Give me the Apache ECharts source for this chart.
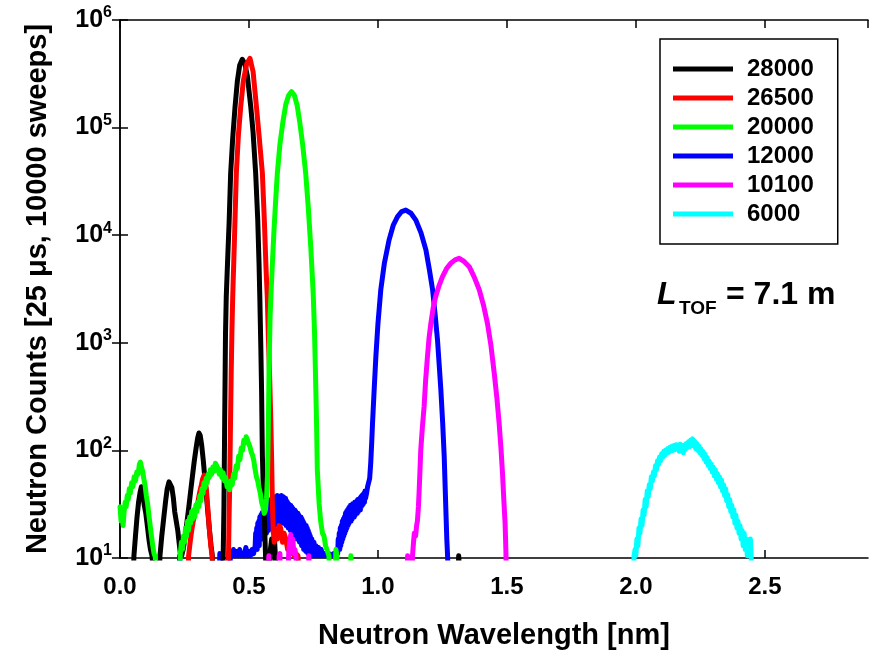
<!DOCTYPE html>
<html><head><meta charset="utf-8">
<script src="https://cdn.jsdelivr.net/npm/echarts@6/dist/echarts.min.js"></script>
<style>html,body{margin:0;padding:0;background:#fff}#c{width:872px;height:656px}</style>
</head><body><div id="c"></div>
<script>
// ---- data (wavelength [nm], counts) ----
const seriesNames = ['28000', '26500', '20000', '12000', '10100', '6000'];
const seriesColors = ['#000000', '#ff0000', '#00ff00', '#0000ff', '#ff00ff', '#00ffff'];
const xTickLabels = ['0.0', '0.5', '1.0', '1.5', '2.0', '2.5'];
const yTickExponents = [1, 2, 3, 4, 5, 6];

const s28000 = [
  [0.050,5],[0.054,10.5],[0.060,16],[0.066,24],[0.072,33],[0.078,41],[0.083,46],[0.088,40],[0.094,31],[0.100,26],[0.106,20],[0.112,15],[0.118,12],[0.124,10.5],[0.130,7],
  [0.150,5],[0.155,10.5],[0.162,16],[0.170,24],[0.177,34],[0.183,44],[0.190,51],[0.196,52],[0.201,45],[0.207,36],[0.212,27],[0.218,22],[0.224,18],[0.229,14],[0.234,11],[0.239,10.5],
  [0.245,12],[0.253,16],[0.260,22],[0.267,30],[0.274,42],[0.281,58],[0.288,80],[0.295,105],[0.301,130],[0.306,145],[0.311,138],[0.317,110],[0.323,80],[0.329,55],[0.335,38],[0.341,26],[0.347,18],[0.353,13],[0.358,10.5],[0.362,5],
  [0.398,5],[0.403,30],[0.406,200],[0.409,1200],[0.412,2700],[0.418,6500],[0.423,13000],[0.429,37600],[0.437,80000],[0.446,156000],[0.455,270000],[0.464,380000],[0.474,432000],[0.484,390000],[0.494,300000],[0.507,156000],[0.516,90000],[0.526,37600],[0.534,14000],[0.539,5500],[0.542,2700],[0.546,900],[0.549,350],[0.552,90],[0.556,40],[0.560,22],[0.564,11],[0.568,5],
  [0.580,5],[0.583,12],[0.588,15],[0.593,13],[0.598,16],[0.602,11],[0.606,5],
  [1.310,5],[1.313,10.5],[1.318,10.5],[1.321,5]
];
const s26500 = [
  [0.262,5],[0.266,10.5],[0.272,14],[0.278,18],[0.284,22],[0.290,27],[0.296,26],[0.302,33],[0.308,40],[0.314,46],[0.320,54],[0.326,59],[0.331,52],[0.336,40],[0.341,28],[0.346,19],[0.352,13],[0.357,10.5],[0.362,5],
  [0.418,5],[0.421,12],[0.423,25],[0.425,43],[0.428,150],[0.431,500],[0.434,1300],[0.437,2700],[0.443,8000],[0.451,37600],[0.459,85000],[0.468,156000],[0.478,270000],[0.491,390000],[0.504,440000],[0.516,330000],[0.529,156000],[0.540,80000],[0.552,37600],[0.560,13000],[0.566,5000],[0.571,2700],[0.575,1200],[0.580,500],[0.585,178],[0.588,80],[0.591,30],[0.594,18],
  [0.598,14],[0.604,18],[0.610,15],[0.616,20],[0.623,19],[0.630,14],[0.636,17],[0.643,15],[0.650,12],[0.656,14],[0.662,11],[0.669,12.5],[0.675,10.5],[0.682,11],[0.690,10.5],[0.698,5]
];
const s20000 = [
  [0.000,30],[0.004,22],[0.008,28],[0.012,20],[0.016,27],[0.020,33],[0.024,30],[0.028,38],[0.032,35],[0.036,44],[0.040,40],[0.045,50],[0.050,46],[0.055,57],[0.060,52],[0.065,63],[0.070,60],[0.075,74],[0.079,78],[0.083,70],[0.088,64],[0.092,55],[0.097,48],[0.102,38],[0.107,32],[0.112,25],[0.117,20],[0.122,16],[0.127,13],[0.132,11],[0.137,10.2],[0.141,5],
  [0.230,5],[0.234,11],[0.238,14],[0.242,12],[0.246,16],[0.250,14],[0.254,19],[0.258,16],[0.262,22],[0.266,18],[0.270,24],[0.274,21],[0.278,27],[0.282,23],[0.286,28],[0.290,24],[0.294,31],[0.298,27],[0.302,33],[0.306,30],[0.310,38],[0.314,34],[0.318,44],[0.322,40],[0.326,50],[0.330,45],[0.334,55],[0.338,50],[0.342,60],[0.346,56],[0.350,66],[0.355,60],[0.360,70],[0.365,64],[0.370,76],[0.375,72],[0.380,68],[0.385,60],[0.390,66],[0.395,56],[0.400,62],[0.405,52],[0.410,56],[0.415,46],[0.420,50],[0.425,43],[0.430,52],[0.435,48],[0.440,60],[0.445,55],[0.450,72],[0.455,68],[0.460,88],[0.465,82],[0.470,105],[0.475,100],[0.480,124],[0.485,118],[0.489,134],[0.494,125],[0.499,115],[0.504,108],[0.509,96],[0.514,90],[0.519,80],[0.524,66],[0.529,57],[0.534,52],[0.539,45],[0.544,40],[0.549,33],[0.554,30],[0.559,26],[0.564,28],[0.568,36],
  [0.572,60],[0.575,150],[0.578,600],[0.582,1800],[0.585,2700],[0.590,5000],[0.597,11000],[0.604,22000],[0.610,37600],[0.620,70000],[0.632,115000],[0.643,165000],[0.654,200000],[0.665,216000],[0.676,200000],[0.687,160000],[0.697,112000],[0.708,70000],[0.720,37600],[0.730,18000],[0.740,7500],[0.749,2900],[0.754,1300],[0.758,500],[0.762,180],[0.765,66],[0.772,32],[0.778,22],[0.785,17],[0.791,16],[0.797,13],[0.804,12.5],[0.810,10.5],[0.815,5],
  [0.834,5],[0.837,12],[0.840,11],[0.843,5],
  [0.892,5],[0.895,10.5],[0.898,10.5],[0.901,5]
];
const s12000 = [
  [0.228,5],[0.231,10.5],[0.235,10.5],[0.238,5],
  [0.384,5],[0.387,11],[0.391,10.5],[0.394,5],
  [0.425,5],[0.428,11.5],[0.434,10.5],[0.440,12],[0.446,10.5],[0.452,11.5],[0.458,10.5],[0.464,12],[0.470,10.5],[0.476,11],[0.482,10.5],[0.488,12.5],[0.494,10.5],[0.500,11.5],[0.506,10.5],[0.512,12],[0.518,11],[0.524,13],[0.526,17],[0.528,13],[0.530,19],[0.532,12],[0.534,21],[0.536,14],[0.538,22],[0.540,13],[0.542,24],[0.544,15],[0.546,25],[0.548,16],[0.550,26],[0.552,15],[0.554,27],[0.556,17],[0.558,29],[0.560,16],[0.562,30],[0.564,18],[0.566,31],[0.568,17],[0.570,32],[0.572,19],[0.574,33],[0.576,18],[0.578,34],[0.580,20],[0.582,33],[0.584,19],[0.586,35],[0.588,21],[0.590,34],[0.592,20],[0.594,36],[0.596,22],[0.598,35],[0.600,20],[0.602,37],[0.604,22],[0.606,36],[0.608,21],[0.610,38],[0.612,22],[0.614,36],[0.616,21],[0.618,37],[0.620,23],[0.622,35],[0.624,22],[0.626,38],[0.628,23],[0.630,36],[0.632,21],[0.634,37],[0.636,22],[0.638,35],[0.640,21],[0.642,36],[0.644,20],[0.646,34],[0.648,21],[0.650,33],[0.652,19],[0.654,32],[0.656,20],[0.658,31],[0.660,18],[0.662,31],[0.664,19],[0.666,30],[0.668,17],[0.670,29],[0.672,18],[0.674,28],[0.676,16],[0.678,28],[0.680,17],[0.682,27],[0.684,15],[0.686,26],[0.688,16],[0.690,26],[0.692,15],[0.694,25],[0.696,14],[0.698,24],[0.700,15],[0.702,24],[0.704,13],[0.706,23],[0.708,14],[0.710,22],[0.712,12],[0.714,21],[0.716,13],[0.718,20],[0.720,11.5],[0.722,20],[0.724,12],[0.726,19],[0.728,11],[0.730,18],[0.732,11.5],[0.734,17],[0.736,10.5],[0.738,16],[0.740,11],[0.744,15],[0.748,10.5],[0.752,14],[0.756,10.5],[0.760,13],[0.765,10.5],[0.770,12.5],[0.775,10.5],[0.780,12],[0.786,10.5],[0.792,11],[0.798,10.5],[0.804,10.5],[0.810,11],[0.816,10.5],[0.822,10.5],[0.828,11],[0.834,10.5],[0.840,12],[0.844,11],[0.846,15],[0.848,12],[0.850,17],[0.852,12],[0.854,19],[0.856,13],[0.858,20],[0.860,14],[0.862,22],[0.864,15],[0.866,23],[0.868,16],[0.870,24],[0.872,17],[0.874,26],[0.876,18],[0.878,27],[0.880,19],[0.882,28],[0.884,20],[0.886,29],[0.888,21],[0.890,30],[0.892,22],[0.894,31],[0.896,22],[0.898,31],[0.900,23],[0.902,32],[0.904,24],[0.906,32],[0.908,24],[0.910,33],[0.912,25],[0.914,33],[0.916,26],[0.918,34],[0.920,26],[0.922,35],[0.924,27],[0.926,35],[0.928,28],[0.930,36],[0.932,28],[0.934,37],[0.936,30],[0.938,38],[0.940,31],[0.942,39],[0.944,32],[0.946,40],[0.948,33],[0.950,42],[0.952,36],[0.956,40],[0.960,46],[0.964,45],[0.968,55],[0.972,76],[0.976,120],[0.979,178],[0.985,350],[0.992,743],
  [1.000,1500],[1.011,3100],[1.025,5500],[1.043,9000],[1.060,12500],[1.076,14900],[1.092,16600],[1.108,17100],[1.128,16000],[1.147,13800],[1.167,10500],[1.186,7300],[1.200,4700],[1.212,3100],[1.222,1800],[1.231,1060],[1.238,600],[1.244,364],[1.251,180],[1.257,87],[1.263,30],[1.267,15],[1.270,10.5],[1.274,5]
];
const s10100 = [
  [0.574,5],[0.577,10.5],[0.580,10.5],[0.583,5],
  [0.614,5],[0.617,10.5],[0.620,11],[0.623,5],
  [0.650,5],[0.654,11],[0.658,14],[0.662,16.5],[0.666,12],[0.670,15],[0.674,11],[0.678,12],[0.682,10.5],[0.686,5],
  [0.729,5],[0.732,10.5],[0.735,10.5],[0.738,5],
  [1.112,5],[1.115,10.5],[1.119,10.5],[1.122,5],
  [1.131,5],[1.134,10.5],[1.138,14],[1.141,17],[1.146,16],[1.150,20],[1.153,22],[1.157,30],[1.160,43],[1.163,65],[1.166,100],[1.172,160],[1.179,255],[1.185,450],[1.192,743],[1.198,1100],[1.205,1500],[1.214,2100],[1.224,2700],[1.237,3400],[1.250,4100],[1.266,4900],[1.283,5500],[1.299,5900],[1.315,6100],[1.334,5700],[1.354,5100],[1.373,4100],[1.393,3100],[1.410,2200],[1.425,1500],[1.438,950],[1.451,520],[1.461,310],[1.470,178],[1.477,105],[1.483,61],[1.488,35],[1.493,21],[1.496,12],[1.499,5]
];
const s6000 = [
  [1.990,5],[1.993,10.5],[1.997,12],[2.000,10.5],[2.004,15],[2.008,13],[2.012,19],[2.016,17],[2.020,23],[2.024,20],[2.028,28],[2.032,25],[2.036,35],[2.040,30],[2.044,42],[2.048,37],[2.052,48],[2.056,44],[2.060,57],[2.064,52],[2.068,63],[2.072,58],[2.076,72],[2.080,66],[2.084,80],[2.088,74],[2.092,87],[2.096,80],[2.100,93],[2.104,86],[2.108,98],[2.112,90],[2.116,101],[2.120,94],[2.124,104],[2.128,96],[2.132,107],[2.136,99],[2.140,109],[2.144,100],[2.148,111],[2.152,102],[2.156,113],[2.160,104],[2.164,112],[2.168,98],[2.172,114],[2.176,104],[2.180,110],[2.184,95],[2.188,112],[2.192,102],[2.196,116],[2.200,106],[2.204,120],[2.208,108],[2.212,124],[2.216,112],[2.220,128],[2.224,110],[2.228,122],[2.232,104],[2.236,116],[2.240,100],[2.244,110],[2.248,95],[2.252,104],[2.256,90],[2.260,98],[2.264,84],[2.268,92],[2.272,78],[2.276,86],[2.280,73],[2.284,80],[2.288,68],[2.292,75],[2.296,63],[2.300,70],[2.304,58],[2.308,66],[2.312,54],[2.316,61],[2.320,50],[2.324,57],[2.328,46],[2.332,53],[2.336,42],[2.340,48],[2.344,38],[2.348,44],[2.352,34],[2.356,39],[2.360,30],[2.364,35],[2.368,27],[2.372,31],[2.376,24],[2.380,28],[2.384,21],[2.388,25],[2.392,19],[2.396,22],[2.400,17],[2.404,20],[2.408,15],[2.412,18],[2.416,13],[2.420,17],[2.424,12],[2.428,15],[2.432,10.5],[2.436,14],[2.440,10.5],[2.444,15],[2.447,10.5],[2.450,5]
];

// ---- chart ----
const FONT = '"Liberation Sans", Arial, Helvetica, sans-serif';
const dataByName = { '28000': s28000, '26500': s26500, '20000': s20000, '12000': s12000, '10100': s10100, '6000': s6000 };
// drawing order (later on top)
const drawOrder = ['12000', '28000', '26500', '20000', '10100', '6000'];

const chart = echarts.init(document.getElementById('c'), null, { renderer: 'canvas' });
const axisLineStyle = { color: '#000', width: 1.5 };

const option = {
  backgroundColor: '#fff',
  animation: false,
  textStyle: { fontFamily: FONT, fontWeight: 'bold', color: '#000' },
  grid: { left: 120, right: 4, top: 20, bottom: 98, containLabel: false },
  legend: {
    data: seriesNames.map(function (n) { return { name: n, icon: 'rect' }; }),
    orient: 'vertical',
    left: 660, top: 39,
    borderColor: '#000', borderWidth: 1.5,
    padding: [18, 24, 18, 13],
    itemWidth: 60, itemHeight: 5, itemGap: 5,
    textStyle: { fontFamily: FONT, fontWeight: 'bold', fontSize: 24, lineHeight: 24, color: '#000', padding: [0, 0, 0, 9] }
  },
  xAxis: [{
    type: 'value', min: 0, max: 2.9, interval: 0.5,
    name: 'Neutron Wavelength [nm]', nameLocation: 'middle', nameGap: 63,
    nameTextStyle: { fontFamily: FONT, fontWeight: 'bold', fontSize: 29, color: '#000' },
    axisLine: { show: true, lineStyle: axisLineStyle },
    axisTick: { show: true, inside: true, length: 8, lineStyle: axisLineStyle },
    axisLabel: {
      margin: 17, fontSize: 24, fontWeight: 'bold', color: '#000', fontFamily: FONT,
      showMaxLabel: false,
      formatter: function (v) {
        const i = Math.round(v / 0.5);
        return (Math.abs(v - i * 0.5) < 1e-6 && i < xTickLabels.length) ? xTickLabels[i] : '';
      }
    },
    splitLine: { show: false }
  }, {
    type: 'value', min: 0, max: 2.9, interval: 0.5, position: 'top',
    axisLine: { show: true, lineStyle: axisLineStyle },
    axisTick: { show: true, inside: true, length: 8, lineStyle: axisLineStyle },
    axisLabel: { show: false }, splitLine: { show: false }
  }],
  yAxis: [{
    type: 'log', logBase: 10, min: 10, max: 1000000,
    name: 'Neutron Counts [25 \u03bcs, 10000 sweeps]', nameLocation: 'middle', nameGap: 68, nameRotate: 90,
    nameTextStyle: { fontFamily: FONT, fontWeight: 'bold', fontSize: 29, color: '#000' },
    axisLine: { show: true, lineStyle: axisLineStyle },
    axisTick: { show: true, inside: true, length: 8, lineStyle: axisLineStyle },
    minorTick: { show: false },
    axisLabel: {
      margin: 8, color: '#000',
      formatter: function (v) {
        const e = Math.round(Math.log10(v));
        return yTickExponents.indexOf(e) >= 0 ? '{b|10}{e|' + e + '}' : '';
      },
      rich: {
        b: { fontFamily: FONT, fontWeight: 'bold', fontSize: 25, lineHeight: 30, color: '#000' },
        e: { fontFamily: FONT, fontWeight: 'bold', fontSize: 16, lineHeight: 16, verticalAlign: 'top', color: '#000' }
      }
    },
    splitLine: { show: false }
  }, {
    type: 'log', logBase: 10, min: 10, max: 1000000, position: 'right',
    axisLine: { show: true, lineStyle: axisLineStyle },
    axisTick: { show: true, inside: true, length: 8, lineStyle: axisLineStyle },
    axisLabel: { show: false }, splitLine: { show: false }
  }],
  series: drawOrder.map(function (n) {
    const c = seriesColors[seriesNames.indexOf(n)];
    return {
      name: n, type: 'line', xAxisIndex: 0, yAxisIndex: 0,
      data: dataByName[n],
      symbol: 'none', showSymbol: false, clip: true,
      lineStyle: { color: c, width: 5, cap: 'round', join: 'round' },
      itemStyle: { color: c },
      emphasis: { disabled: true }
    };
  }),
  graphic: [
    { type: 'text', left: 657, top: 279, style: { text: 'L', font: 'italic bold 32px ' + FONT, fill: '#000' } },
    { type: 'text', left: 679, top: 299, style: { text: 'TOF', font: 'bold 19px ' + FONT, fill: '#000' } },
    { type: 'text', left: 726, top: 279, style: { text: '= 7.1 m', font: 'bold 32px ' + FONT, fill: '#000' } }
  ]
};
chart.setOption(option);
</script>
</body></html>
